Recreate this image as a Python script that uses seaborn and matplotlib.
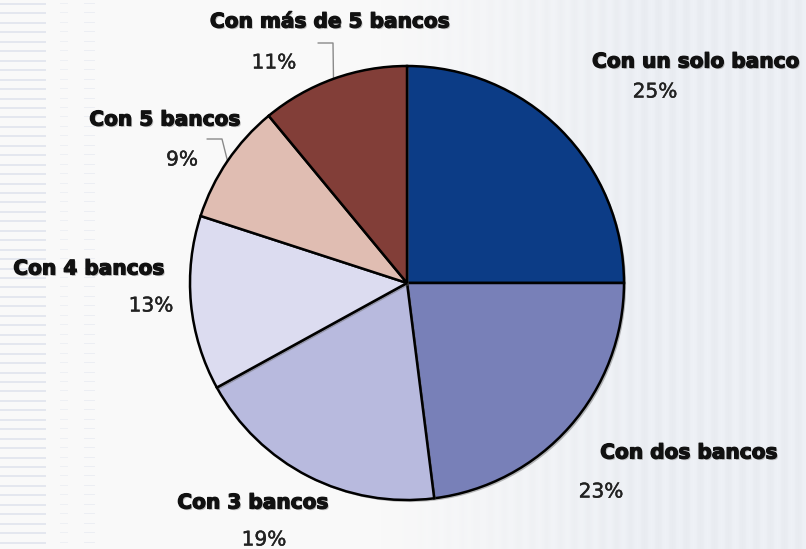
import numpy as np
import matplotlib
matplotlib.use("Agg")
import matplotlib.pyplot as plt
import matplotlib.patheffects as pe
import seaborn as sns

# Share of companies by number of banks they work with
categories = ["Con un solo banco", "Con dos bancos", "Con 3 bancos",
              "Con 4 bancos", "Con 5 bancos", "Con más de 5 bancos"]
shares = [25, 23, 19, 13, 9, 11]
colors = ["#0c3c86", "#7880b8", "#b8bade", "#dcdcf0", "#e0bdb2", "#823e38"]

# Label anchor points (pixels from top-left): name, then percentage
name_pos = [(696, 62), (689, 453), (253, 503), (89, 269), (165, 120), (330, 22)]
pct_pos = [(655, 92), (601, 492), (264, 540), (151, 306), (182, 160), (274, 63)]
# Elbow points of leader lines for the small slices (index -> points)
leaders = {5: [(318, 43), (333, 43)], 4: [(207, 139), (222, 139)]}

W, H = 806, 549
CX, CY, R = 407, 283, 217

sns.set_theme(style="white")
plt.rcParams["font.family"] = ["DejaVu Sans"]

fig = plt.figure(figsize=(W / 100, H / 100), dpi=100)

# Page backdrop: soft grey on the left fading to pale blue with vertical stripes
xs = np.arange(W)
t = np.clip((xs - 380) / 260.0, 0, 1)[:, None]
left_c = np.array([249, 249, 249]) / 255.0
right_c = np.array([238, 241, 246]) / 255.0
row = left_c * (1 - t) + right_c * t
stripe = (0.5 + 0.5 * np.cos(2 * np.pi * xs / 14.0))[:, None]
row = row - 0.02 * stripe * t
bg = np.repeat(row[None, :, :], H, axis=0)
for k in range(60):
    y0 = int(round(3 + 9.45 * k))
    if y0 + 2 > H:
        break
    bg[y0:y0 + 2, 0:46] = np.array([228, 231, 239]) / 255.0
    bg[y0:y0 + 1, 60:68] = np.array([238, 240, 244]) / 255.0
    bg[y0:y0 + 1, 84:95] = np.array([236, 238, 243]) / 255.0
ax_bg = fig.add_axes([0, 0, 1, 1])
ax_bg.imshow(np.clip(bg, 0, 1), extent=(0, W, H, 0), aspect="auto", interpolation="nearest")
ax_bg.set_axis_off()

ax = fig.add_axes([0, 0, 1, 1])
ax.patch.set_alpha(0)

wedges, _ = ax.pie(
    shares, colors=colors, startangle=90, counterclock=False,
    radius=R, center=(CX, H - CY),
    wedgeprops=dict(edgecolor="black", linewidth=1.8,
                    path_effects=[pe.SimplePatchShadow(offset=(1.5, -1.5), shadow_rgbFace="#666666", alpha=0.45),
                                  pe.Normal()]),
)
ax.set_xlim(0, W)
ax.set_ylim(0, H)
ax.set_aspect("equal", adjustable="box")
ax.set_axis_off()

name_fx = [pe.SimplePatchShadow(offset=(1, -1), shadow_rgbFace="#9a9a9a", alpha=0.6),
           pe.withStroke(linewidth=0.9, foreground="#111111")]
pct_fx = [pe.withStroke(linewidth=0.3, foreground="#222222")]

for i, (name, val) in enumerate(zip(categories, shares)):
    nx, ny = name_pos[i]
    px, py = pct_pos[i]
    ax.text(nx, H - ny, name, ha="center", va="center", fontsize=14.5,
            fontweight="bold", color="#111111", path_effects=name_fx)
    ax.text(px, H - py, f"{val}%", ha="center", va="center", fontsize=14.5,
            color="#222222", path_effects=pct_fx)

# Leader lines run from the label elbow to the slice's outer edge
for i, pts in leaders.items():
    w = wedges[i]
    mid = np.deg2rad((w.theta1 + w.theta2) / 2)
    ex = CX + R * np.cos(mid)
    ey = CY - R * np.sin(mid)
    xs_l = [p[0] for p in pts] + [ex]
    ys_l = [H - p[1] for p in pts] + [H - ey]
    ax.plot(xs_l, ys_l, color="#8a8a8a", linewidth=1.0, zorder=0.5)

fig.savefig("out.png", dpi=100)
